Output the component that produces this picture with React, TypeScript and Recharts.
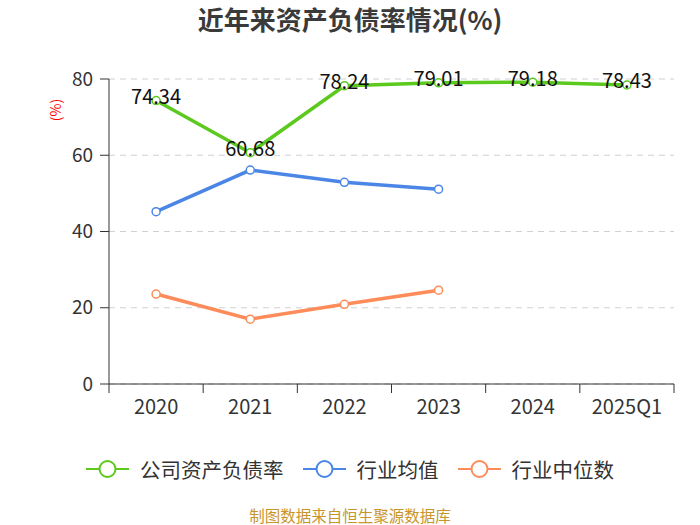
import React from "react";
import { LineChart, Line, XAxis, YAxis, CartesianGrid } from "recharts";

const categories = ["2020", "2021", "2022", "2023", "2024", "2025Q1"];
const companyRatio = [74.34, 60.68, 78.24, 79.01, 79.18, 78.43];
const industryAvg = [45.2, 56.1, 52.9, 51.1, null, null];
const industryMedian = [23.6, 17.0, 20.9, 24.6, null, null];
const yTicks = [0, 20, 40, 60, 80];

const seriesNames = ["公司资产负债率", "行业均值", "行业中位数"];
const seriesColors = ["#5cc91e", "#4b86e6", "#fd8c5a"];

const data = categories.map((c, i) => ({
  name: c,
  company: companyRatio[i],
  avg: industryAvg[i],
  median: industryMedian[i],
}));

const FONT = "'Noto Sans CJK SC', 'Noto Sans', sans-serif";

const XTick = (props: any) => {
  const { x, y, payload, width, index } = props;
  const band = width / categories.length;
  const left = x - band / 2;
  const right = x + band / 2;
  const axisY = y - 8;
  return (
    <g>
      <line x1={left} y1={axisY} x2={left} y2={axisY + 9} stroke="#333" strokeWidth={1} />
      {index === categories.length - 1 && (
        <line x1={right} y1={axisY} x2={right} y2={axisY + 9} stroke="#333" strokeWidth={1} />
      )}
      <text x={x} y={axisY + 30} textAnchor="middle" fill="#333" fontSize={20} fontFamily={FONT}>
        {payload.value}
      </text>
    </g>
  );
};

const ValueLabel = (props: any) => {
  const { x, y, value } = props;
  if (value == null) return null;
  return (
    <text x={x} y={y - 2} textAnchor="middle" dominantBaseline="middle" fill="#111" fontSize={20} fontFamily={FONT}>
      {Number(value).toFixed(2)}
    </text>
  );
};

const LegendBlock = () => (
  <div
    style={{
      position: "absolute",
      top: 457,
      left: 0,
      width: 700,
      height: 24,
      display: "flex",
      justifyContent: "center",
      alignItems: "center",
      fontFamily: FONT,
    }}
  >
    {seriesNames.map((n, i) => (
      <div key={n} style={{ display: "flex", alignItems: "center", marginRight: i < 2 ? 19 : 0 }}>
        <svg width={43} height={20} style={{ marginRight: 11 }}>
          <line x1={0} y1={10} x2={43} y2={10} stroke={seriesColors[i]} strokeWidth={2} />
          <circle cx={21.5} cy={10} r={8} fill="#fff" stroke={seriesColors[i]} strokeWidth={2} />
        </svg>
        <span style={{ fontSize: 20.5, lineHeight: "24px", color: "#333" }}>{n}</span>
      </div>
    ))}
  </div>
);

export default function App() {
  return (
    <div style={{ position: "absolute", left: 0, top: 0, width: 700, height: 525, background: "#fff", overflow: "hidden" }}>
      <div
        style={{
          position: "absolute",
          top: 6,
          left: 0,
          width: 700,
          textAlign: "center",
          fontFamily: FONT,
          fontWeight: "bold",
          fontSize: 26,
          lineHeight: "26px",
          color: "#3a3a3a",
        }}
      >
        近年来资产负债率情况(%)
      </div>
      <div
        style={{
          position: "absolute",
          left: 40,
          top: 100,
          width: 30,
          height: 20,
          transform: "rotate(-90deg)",
          color: "#ff0000",
          fontSize: 14,
          fontFamily: FONT,
          textAlign: "center",
          lineHeight: "20px",
        }}
      >
        (%)
      </div>
      <div style={{ position: "absolute", left: 0, top: 0 }}>
        <LineChart
          width={700}
          height={525}
          data={data}
          margin={{ top: 79, right: 26, bottom: 111, left: 49 }}
        >
          <CartesianGrid vertical={false} stroke="#d0d0d0" strokeDasharray="6 5" />
          <XAxis
            dataKey="name"
            scale="band"
            height={30}
            tick={<XTick />}
            tickLine={false}
            axisLine={{ stroke: "#333" }}
            interval={0}
          />
          <YAxis
            width={60}
            domain={[0, 80]}
            ticks={yTicks}
            tick={{ fill: "#333", fontSize: 19, fontFamily: FONT }}
            tickLine={{ stroke: "#333" }}
            tickSize={9}
            tickMargin={7}
            axisLine={{ stroke: "#333" }}
            interval={0}
          />
          <Line
            dataKey="company"
            name={seriesNames[0]}
            stroke={seriesColors[0]}
            strokeWidth={3.5}
            dot={{ r: 4, fill: "#fff", stroke: seriesColors[0], strokeWidth: 1.5 }}
            isAnimationActive={false}
            label={<ValueLabel />}
          />
          <Line
            dataKey="avg"
            name={seriesNames[1]}
            stroke={seriesColors[1]}
            strokeWidth={3.5}
            dot={{ r: 4, fill: "#fff", stroke: seriesColors[1], strokeWidth: 1.5 }}
            isAnimationActive={false}
          />
          <Line
            dataKey="median"
            name={seriesNames[2]}
            stroke={seriesColors[2]}
            strokeWidth={3.5}
            dot={{ r: 4, fill: "#fff", stroke: seriesColors[2], strokeWidth: 1.5 }}
            isAnimationActive={false}
          />
        </LineChart>
      </div>
      <LegendBlock />
      <div
        style={{
          position: "absolute",
          top: 507,
          left: 0,
          width: 700,
          textAlign: "center",
          fontFamily: FONT,
          fontSize: 15.5,
          lineHeight: "17px",
          color: "#c8952c",
        }}
      >
        制图数据来自恒生聚源数据库
      </div>
    </div>
  );
}
